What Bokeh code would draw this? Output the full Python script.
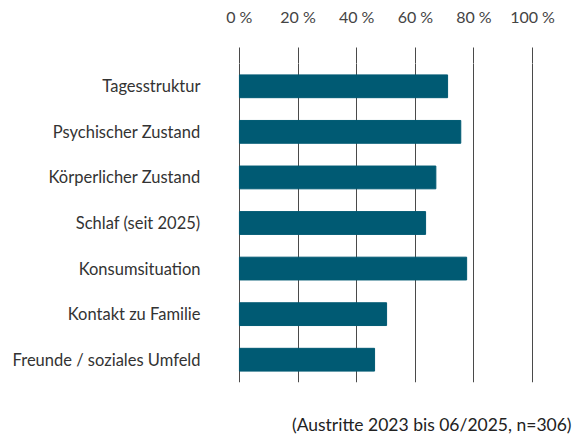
from bokeh.plotting import figure
from bokeh.models import FactorRange, Range1d, FixedTicker, Title
from bokeh.embed import file_html
from bokeh.resources import INLINE

categories = ["Tagesstruktur", "Psychischer Zustand", "Körperlicher Zustand",
              "Schlaf (seit 2025)", "Konsumsituation", "Kontakt zu Familie",
              "Freunde / soziales Umfeld"]
values = [71.0, 75.5, 67.0, 63.5, 77.5, 50.2, 46.1]
tick_values = [0, 20, 40, 60, 80, 100]
tick_labels = ["0\u202f%", "20\u202f%", "40\u202f%", "60\u202f%", "80\u202f%", "100\u202f%"]
footnote = "(Austritte 2023 bis 06/2025, n=306)"

FONT = "Lato"
BAR = "#005a73"
GRID = "#4a4a4a"

p = figure(width=576, height=435, output_backend="svg", toolbar_location=None,
           y_range=FactorRange(factors=list(reversed(categories))),
           x_range=Range1d(-0.3, 100.3), x_axis_location="above",
           min_border_left=238, min_border_right=43, min_border_top=63,
           min_border_bottom=53)

p.hbar(y=categories, right=values, left=0, height=0.5, color=BAR)

p.outline_line_color = None
p.background_fill_color = "white"
p.border_fill_color = "white"
p.ygrid.grid_line_color = None
p.xgrid.ticker = FixedTicker(ticks=tick_values)
p.xgrid.grid_line_color = GRID
p.xgrid.grid_line_width = 1
p.xgrid.level = "underlay"

xa = p.xaxis[0]
xa.ticker = FixedTicker(ticks=tick_values)
xa.major_label_overrides = {v: l for v, l in zip(tick_values, tick_labels)}
xa.axis_line_color = None
xa.major_tick_in = 0
xa.major_tick_out = 16
xa.major_tick_line_color = GRID
xa.minor_tick_line_color = None
xa.major_label_standoff = 22
xa.major_label_text_font = FONT
xa.major_label_text_font_size = "16px"
xa.major_label_text_color = "#444444"

ya = p.yaxis[0]
ya.axis_line_color = None
ya.major_tick_line_color = None
ya.minor_tick_line_color = None
ya.major_label_standoff = 32
ya.major_label_text_font = FONT
ya.major_label_text_font_size = "16.5px"
ya.major_label_text_color = "#333333"

# spacer between the frame and the footnote
p.add_layout(Title(text=" ", text_font_size="1px", standoff=26), "below")
p.add_layout(Title(text=footnote, align="right", vertical_align="bottom",
                   text_font=FONT, text_font_size="17.5px",
                   text_font_style="normal", text_color="#222222",
                   standoff=0, offset=-38), "below")

open("out.html", "w").write(file_html(p, INLINE))
